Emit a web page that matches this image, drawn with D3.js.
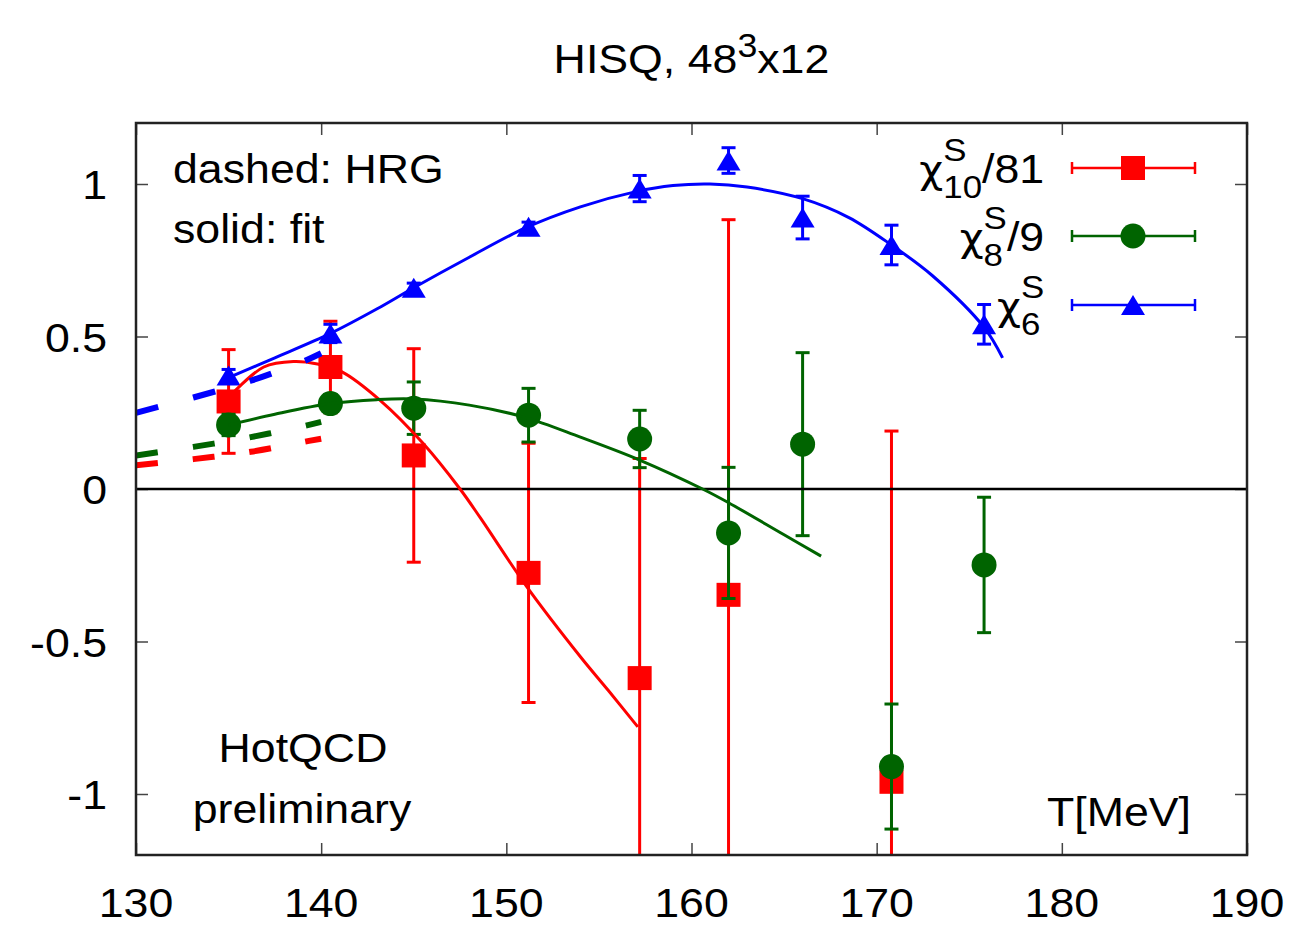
<!DOCTYPE html>
<html>
<head>
<meta charset="utf-8">
<script src="https://cdnjs.cloudflare.com/ajax/libs/d3/7.8.5/d3.min.js"></script>
<style>
body { margin: 0; background: #fff; }
text { font-family: "Liberation Sans", Arial, sans-serif; fill: #000; }
</style>
</head>
<body>
<div id="graph"></div>
<script>
// lattice points (T in MeV)
const temps = [135.0, 140.5, 145.0, 151.2, 157.2, 162.0, 166.0, 170.8, 175.8];
const chi10_T = [135.0, 140.5, 145.0, 151.2, 157.2, 162.0, 170.8];
const chi10 = [0.287, 0.40, 0.11, -0.275, -0.62, -0.347, -0.96];
const chi10_err = [0.17, 0.15, 0.35, 0.425, 0.72, 1.23, 1.15];
const chi8 = [0.21, 0.28, 0.265, 0.242, 0.164, -0.144, 0.147, -0.91, -0.249];
const chi8_err = [0.035, 0.03, 0.086, 0.088, 0.094, 0.215, 0.30, 0.205, 0.222];
const chi6 = [0.372, 0.51, 0.66, 0.86, 0.985, 1.077, 0.89, 0.80, 0.54];
const chi6_err = [0.02, 0.03, 0.015, 0.015, 0.043, 0.042, 0.07, 0.065, 0.065];

// solid fit curves
const fit10_T = [135, 136.9, 138.5, 139.8, 141.1, 143.2, 145.5, 147.5, 148.6, 151.1, 154, 155.5, 157.1];
const fit10 = [0.30, 0.40, 0.418, 0.41, 0.385, 0.29, 0.15, 0.0, -0.095, -0.32, -0.55, -0.66, -0.78];
const fit8_T = [135, 137.5, 140.5, 143, 145, 148, 151, 154, 157.2, 160.6, 162, 165, 167];
const fit8 = [0.21, 0.245, 0.28, 0.293, 0.295, 0.275, 0.235, 0.17, 0.095, 0.0, -0.045, -0.15, -0.22];
const fit6_T = [135, 137.5, 140.5, 143, 145, 148, 151, 154, 157, 159, 161, 163, 166, 168.5, 170.8, 173, 175.8, 176.8];
const fit6 = [0.365, 0.43, 0.51, 0.59, 0.66, 0.76, 0.855, 0.925, 0.975, 0.995, 1.0, 0.99, 0.952, 0.89, 0.80, 0.70, 0.53, 0.43];

// dashed HRG curves
const hrg_T = [130, 133.1, 136.2, 139.1, 140];
const hrg10 = [0.078, 0.098, 0.122, 0.155, 0.165];
const hrg8 = [0.11, 0.138, 0.17, 0.207, 0.22];
const hrg6 = [0.25, 0.30, 0.355, 0.42, 0.445];

const xTicks = [130, 140, 150, 160, 170, 180, 190];
const yTicks = [-1, -0.5, 0, 0.5, 1];
const yTickLabels = ['-1', '-0.5', '0', '0.5', '1'];

const red = '#ff0000';
const green = '#006400';
const blue = '#0000ff';
const fs = 41;
const sx = 1.09;

const w = 1291;
const h = 925;
const pad_left = 136, pad_right = 1247, pad_top = 123, pad_bottom = 855;

const svg = d3.select('#graph').append('svg')
  .attr('width', w)
  .attr('height', h);

const xScale = d3.scaleLinear().domain([130, 190]).range([pad_left, pad_right]);
const yScale = d3.scaleLinear().domain([-1.2, 1.2]).range([pad_bottom, pad_top]);

svg.append('clipPath').attr('id', 'clip')
  .append('rect')
  .attr('x', pad_left).attr('y', pad_top)
  .attr('width', pad_right - pad_left).attr('height', pad_bottom - pad_top);

// text helper, glyphs a bit wider than tall like the original
function label(x, y, str, size, anchor) {
  return svg.append('g')
    .attr('transform', 'translate(' + x + ',' + y + ') scale(' + sx + ',1)')
    .append('text')
    .attr('font-size', size)
    .attr('text-anchor', anchor || 'start')
    .text(str);
}
// unscaled width
function textWidth(str, size, family) {
  const t = svg.append('text').attr('font-size', size).text(str);
  if (family) t.attr('font-family', family);
  const wd = t.node().getComputedTextLength();
  t.remove();
  return wd;
}

// ticks on all four sides, pointing in
const tickStyle = (g) => {
  g.select('.domain').remove();
  g.selectAll('line').attr('stroke', '#444').attr('stroke-width', 1.5);
};
svg.append('g').attr('transform', 'translate(0,' + pad_bottom + ')')
  .call(d3.axisBottom(xScale).tickValues(xTicks).tickSize(-12).tickFormat('')).call(tickStyle);
svg.append('g').attr('transform', 'translate(0,' + pad_top + ')')
  .call(d3.axisTop(xScale).tickValues(xTicks).tickSize(-12).tickFormat('')).call(tickStyle);
svg.append('g').attr('transform', 'translate(' + pad_left + ',0)')
  .call(d3.axisLeft(yScale).tickValues(yTicks).tickSize(-12).tickFormat('')).call(tickStyle);
svg.append('g').attr('transform', 'translate(' + pad_right + ',0)')
  .call(d3.axisRight(yScale).tickValues(yTicks).tickSize(-12).tickFormat('')).call(tickStyle);

//tick labels
xTicks.forEach((t) => label(xScale(t), 917, String(t), fs, 'middle'));
yTicks.forEach((t, i) => label(107, yScale(t) + 15, yTickLabels[i], fs, 'end'));

const plot = svg.append('g').attr('clip-path', 'url(#clip)');

// markers
function triangle(cx, cy, tw, th) {
  const p = d3.path();
  p.moveTo(cx, cy - th / 2);
  p.lineTo(cx + tw / 2, cy + th / 2);
  p.lineTo(cx - tw / 2, cy + th / 2);
  p.closePath();
  return p.toString();
}
function drawMarker(g, kind, cx, cy, color) {
  if (kind === 'square') {
    g.append('rect').attr('x', cx - 12).attr('y', cy - 12).attr('width', 24).attr('height', 24).attr('fill', color);
  } else if (kind === 'circle') {
    g.append('circle').attr('cx', cx).attr('cy', cy).attr('r', 12.5).attr('fill', color);
  } else {
    g.append('path').attr('d', triangle(cx, cy, 24, 20)).attr('fill', color);
  }
}

function drawSeries(ts, vals, errs, color, kind) {
  const g = plot.append('g');
  ts.forEach((t, i) => {
    const cx = xScale(t);
    const y1 = yScale(vals[i] + errs[i]);
    const y2 = yScale(vals[i] - errs[i]);
    g.append('line').attr('x1', cx).attr('x2', cx).attr('y1', y1).attr('y2', y2)
      .attr('stroke', color).attr('stroke-width', 3);
    [y1, y2].forEach((yy) => {
      g.append('line').attr('x1', cx - 7).attr('x2', cx + 7).attr('y1', yy).attr('y2', yy)
        .attr('stroke', color).attr('stroke-width', 3);
    });
  });
  ts.forEach((t, i) => drawMarker(g, kind, xScale(t), yScale(vals[i]), color));
}

drawSeries(chi10_T, chi10, chi10_err, red, 'square');
drawSeries(temps, chi8, chi8_err, green, 'circle');
drawSeries(temps, chi6, chi6_err, blue, 'triangle');

// zero line
plot.append('line')
  .attr('x1', pad_left).attr('x2', pad_right)
  .attr('y1', yScale(0)).attr('y2', yScale(0))
  .attr('stroke', '#000').attr('stroke-width', 2.5);

// fits
const curve = d3.line()
  .x((d) => xScale(d[0]))
  .y((d) => yScale(d[1]))
  .curve(d3.curveCatmullRom);
[[fit10_T, fit10, red], [fit8_T, fit8, green], [fit6_T, fit6, blue]].forEach((f) => {
  plot.append('path')
    .attr('d', curve(f[0].map((t, i) => [t, f[1][i]])))
    .attr('fill', 'none').attr('stroke', f[2]).attr('stroke-width', 3);
});

// HRG
[[hrg10, red, '22,35'], [hrg8, green, '22,35.5'], [hrg6, blue, '23,36']].forEach((f) => {
  plot.append('path')
    .attr('d', curve(hrg_T.map((t, i) => [t, f[0][i]])))
    .attr('fill', 'none').attr('stroke', f[1]).attr('stroke-width', 6)
    .attr('stroke-dasharray', f[2]);
});

// frame
svg.append('rect')
  .attr('x', pad_left).attr('y', pad_top)
  .attr('width', pad_right - pad_left).attr('height', pad_bottom - pad_top)
  .attr('fill', 'none').attr('stroke', '#222').attr('stroke-width', 2.5);

// title HISQ, 48^3x12
const tA = 'HISQ, 48', tB = '3', tC = 'x12';
const tw = (textWidth(tA, fs) + textWidth(tB, fs * 0.8) + textWidth(tC, fs)) * sx;
const title = label((pad_left + pad_right) / 2 - tw / 2, 73, '', fs);
title.append('tspan').text(tA);
title.append('tspan').attr('font-size', fs * 0.8).attr('dy', -16).text(tB);
title.append('tspan').attr('dy', 16).text(tC);

// notes
label(173, 183, 'dashed: HRG', fs);
label(173, 243, 'solid: fit', fs);
label(303, 762, 'HotQCD', fs, 'middle');
label(302, 823, 'preliminary', fs, 'middle');
label(1191, 826, 'T[MeV]', fs, 'end');

// legend
const legendNames = [['10', '/81'], ['8', '/9'], ['6', '']];
const legendColors = [red, green, blue];
const legendKinds = ['square', 'circle', 'triangle'];
const legendBase = [183, 251, 320];
legendNames.forEach((n, i) => {
  const base = legendBase[i];
  const xr = 1042;
  const ss = 32;
  const chiSize = 38;
  const wChi = textWidth('χ', chiSize, 'DejaVu Sans');
  const wTail = n[1] ? textWidth(n[1], fs) : 0;
  const wSub = textWidth(n[0], ss), wSup = textWidth('S', ss);
  const wMax = Math.max(wSub, wSup);
  const x0 = xr - (wChi + wMax + wTail) * sx;
  const t = label(x0, base, '', fs);
  t.append('tspan').attr('font-family', 'DejaVu Sans').attr('font-size', chiSize).text('χ');
  t.append('tspan').attr('font-size', ss).attr('dy', -22).text('S');
  t.append('tspan').attr('font-size', ss).attr('dx', -wSup).attr('dy', 37).text(n[0]);
  if (n[1]) t.append('tspan').attr('dx', wMax - wSub).attr('dy', -15).text(n[1]);

  const ly = base - 15;
  const lg = svg.append('g');
  lg.append('line').attr('x1', 1072).attr('x2', 1195).attr('y1', ly).attr('y2', ly)
    .attr('stroke', legendColors[i]).attr('stroke-width', 2.5);
  [1072, 1195].forEach((xx) => {
    lg.append('line').attr('x1', xx).attr('x2', xx).attr('y1', ly - 6).attr('y2', ly + 6)
      .attr('stroke', legendColors[i]).attr('stroke-width', 2.5);
  });
  drawMarker(lg, legendKinds[i], 1133, ly, legendColors[i]);
});
</script>
</body>
</html>
